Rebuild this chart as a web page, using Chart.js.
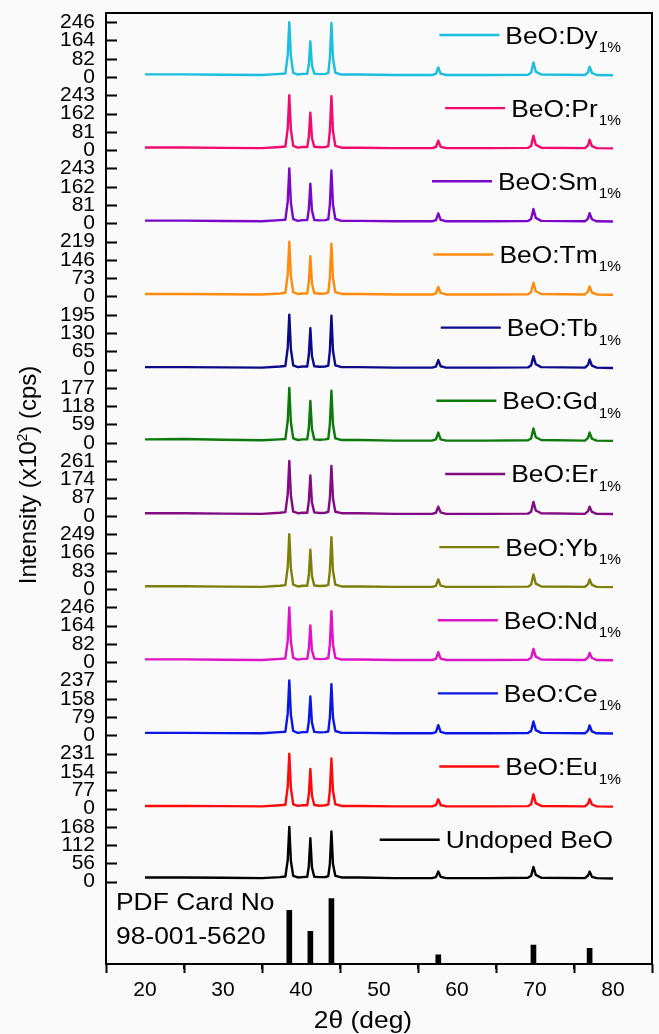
<!DOCTYPE html>
<html>
<head>
<meta charset="utf-8">
<script src="https://cdn.jsdelivr.net/npm/chart.js@4.4.1/dist/chart.umd.min.js"></script>
<style>
  html, body { margin: 0; padding: 0; background: #fafafa; }
  canvas { display: block; }
</style>
</head>
<body>
<canvas id="xrdChart" width="659" height="1034"></canvas>
<script>
// 2θ (deg) sampled for every trace
const twoTheta = [20, 25, 30, 35, 37.3, 38.0, 38.3, 38.5, 38.7, 39.0, 39.6, 40.2, 40.8, 41.0, 41.2, 41.4, 41.7, 42.4, 43.1, 43.5,
  43.7, 43.9, 44.1, 44.4, 45.2, 47.5, 52, 56.8, 57.3, 57.6, 57.9, 58.6, 64, 69.1, 69.5, 69.8, 70.1, 70.8, 76.4, 76.8,
  77.0, 77.3, 77.9, 80];

// 凡例ラベル (上から順)
const seriesLabels = ['BeO:Dy', 'BeO:Pr', 'BeO:Sm', 'BeO:Tm', 'BeO:Tb', 'BeO:Gd', 'BeO:Er', 'BeO:Yb', 'BeO:Nd', 'BeO:Ce', 'BeO:Eu', 'Undoped BeO'];
const labelSubs = ['1%', '1%', '1%', '1%', '1%', '1%', '1%', '1%', '1%', '1%', '1%', ''];
const seriesColors = ['#1abee0', '#f20a6e', '#7b06c9', '#ff8a0c', '#0b0b8a', '#0b7a0b', '#820a82', '#7e7e0a', '#e012c8', '#0a16e4', '#ff0a0a', '#000000'];

// top tick label of each panel (x10^2 cps)
const panelMax = [246, 243, 243, 219, 195, 177, 261, 249, 246, 237, 231, 168];

// intensities (x10^2 cps)
const intDy = [12, 12, 10, 9, 14, 16, 98, 246, 93, 19, 11, 14, 14, 56, 160, 53, 15, 13, 14, 18, 85, 242, 85, 19, 11, 11, 9, 9, 14, 43, 15, 9, 9, 10, 19, 65, 24, 11, 9, 21, 46, 18, 9, 8];
const intPr = [12, 12, 10, 9, 14, 16, 97, 243, 92, 19, 11, 14, 14, 58, 166, 55, 15, 13, 14, 18, 84, 239, 84, 19, 11, 11, 9, 9, 14, 42, 15, 9, 9, 10, 19, 64, 24, 11, 9, 21, 46, 18, 9, 8];
const intSm = [12, 12, 10, 9, 14, 16, 97, 243, 92, 19, 11, 14, 14, 61, 175, 58, 15, 13, 14, 18, 82, 234, 82, 19, 11, 11, 9, 9, 14, 44, 15, 9, 9, 10, 19, 63, 24, 11, 9, 21, 45, 18, 9, 8];
const intTm = [10, 10, 9, 8, 12, 15, 88, 219, 83, 17, 10, 12, 12, 56, 161, 53, 14, 11, 12, 16, 74, 211, 74, 17, 10, 10, 8, 8, 12, 38, 14, 8, 8, 9, 17, 55, 21, 10, 8, 19, 40, 16, 8, 7];
const intTb = [9, 9, 8, 7, 11, 13, 78, 195, 74, 15, 9, 11, 11, 51, 147, 49, 12, 10, 11, 14, 67, 192, 67, 15, 9, 9, 7, 7, 11, 34, 12, 7, 7, 8, 15, 48, 19, 9, 7, 17, 36, 14, 7, 6];
const intGd = [11, 12, 10, 8, 11, 12, 71, 177, 67, 14, 9, 11, 11, 47, 135, 45, 11, 10, 11, 13, 59, 168, 59, 14, 9, 9, 7, 7, 11, 33, 11, 7, 7, 8, 14, 46, 18, 9, 7, 16, 33, 13, 7, 6];
const intEr = [13, 13, 11, 10, 15, 18, 104, 261, 99, 20, 13, 15, 15, 68, 193, 64, 17, 14, 15, 19, 83, 238, 83, 20, 13, 13, 10, 10, 15, 44, 17, 10, 10, 11, 20, 67, 26, 13, 10, 23, 44, 19, 10, 9];
const intYb = [13, 13, 11, 10, 15, 18, 100, 249, 95, 20, 12, 15, 15, 63, 179, 59, 16, 14, 15, 19, 83, 236, 83, 20, 12, 12, 10, 10, 15, 44, 16, 10, 10, 11, 20, 66, 25, 12, 10, 22, 44, 19, 10, 9];
const intNd = [13, 13, 11, 10, 15, 17, 98, 246, 93, 20, 12, 15, 15, 58, 165, 54, 16, 14, 15, 19, 80, 229, 80, 20, 12, 12, 10, 10, 15, 45, 16, 10, 10, 11, 20, 60, 25, 12, 10, 22, 42, 19, 10, 9];
const intCe = [11, 11, 10, 9, 14, 16, 95, 237, 90, 19, 11, 14, 14, 59, 168, 55, 15, 13, 14, 17, 77, 221, 77, 19, 11, 11, 9, 9, 14, 44, 15, 9, 9, 10, 19, 60, 23, 11, 9, 21, 43, 17, 9, 8];
const intEu = [11, 11, 10, 9, 14, 16, 92, 231, 88, 18, 11, 14, 14, 58, 167, 55, 15, 12, 14, 17, 74, 211, 74, 18, 11, 11, 9, 9, 14, 39, 15, 9, 9, 10, 18, 60, 23, 11, 9, 21, 40, 17, 9, 8];
const intUndoped = [13, 13, 12, 11, 14, 16, 67, 168, 64, 18, 13, 14, 15, 47, 133, 44, 15, 14, 14, 17, 54, 154, 54, 18, 13, 13, 11, 11, 14, 31, 15, 11, 11, 12, 18, 45, 21, 12, 11, 19, 31, 15, 11, 10];
const seriesValues = [intDy, intPr, intSm, intTm, intTb, intGd, intEr, intYb, intNd, intCe, intEu, intUndoped];

// PDF Card 98-001-5620 reference lines (relative intensity)
const pdfPositions = [38.5, 41.2, 43.9, 57.6, 69.8, 77.0];
const pdfIntensity = [82, 50, 100, 14, 29, 24];

const xTicks = [20, 30, 40, 50, 60, 70, 80];
const xMinorTicks = [25, 35, 45, 55, 65, 75];

const FONT = '"Liberation Sans", Arial, sans-serif';

function textWidth(ctx, text, size, sx) {
  ctx.font = size + 'px ' + FONT;
  return ctx.measureText(text).width * sx;
}

// 横に少し伸ばした文字を描く
function drawText(ctx, text, x, y, size, sx) {
  ctx.save();
  ctx.font = size + 'px ' + FONT;
  ctx.translate(x, y);
  ctx.scale(sx, 1);
  ctx.textAlign = 'left';
  ctx.textBaseline = 'alphabetic';
  ctx.fillStyle = '#000';
  ctx.fillText(text, 0, 0);
  ctx.restore();
}

// 軸端ラベル用の余白を消す (パネルは積み重ねなので不要)
function noEdgePadding(s) {
  s.paddingTop = 0;
  s.paddingBottom = 0;
  s.paddingLeft = 0;
  s.paddingRight = 0;
}

const decorPlugin = {
  id: 'decor',
  afterDraw(chart) {
    const ctx = chart.ctx;
    const area = chart.chartArea;
    ctx.save();
    ctx.strokeStyle = '#000';
    ctx.lineWidth = 2;
    ctx.strokeRect(area.left, area.top, area.right - area.left, area.bottom - area.top);

    // y軸の内向き目盛り
    panelMax.forEach((m, i) => {
      const s = chart.scales['y' + i];
      s.ticks.forEach((t) => {
        const py = Math.round(s.getPixelForValue(t.value)) + 0.5;
        ctx.beginPath();
        ctx.moveTo(area.left, py);
        ctx.lineTo(area.left + 11, py);
        ctx.stroke();
      });
    });

    // x軸の補助目盛り
    const xs = chart.scales.x;
    xMinorTicks.forEach((v) => {
      const px = Math.round(xs.getPixelForValue(v));
      ctx.beginPath();
      ctx.moveTo(px, area.bottom);
      ctx.lineTo(px, area.bottom + 5);
      ctx.stroke();
    });

    // 凡例
    seriesLabels.forEach((label, i) => {
      const s = chart.scales['y' + i];
      const ly = s.getPixelForValue(0) - 42;
      const sub = labelSubs[i];
      const right = area.right - (sub ? 31 : 39);
      const mw = textWidth(ctx, label, 24, 1.1);
      const sw = sub ? textWidth(ctx, sub, 14, 1.1) + 1 : 0;
      const tx = right - mw - sw;
      drawText(ctx, label, tx, ly + 8.5, 24, 1.1);
      if (sub) drawText(ctx, sub, tx + mw + 1, ly + 17, 14, 1.1);
      ctx.strokeStyle = seriesColors[i];
      ctx.lineWidth = 2.4;
      ctx.beginPath();
      ctx.moveTo(tx - 66, ly);
      ctx.lineTo(tx - 6, ly);
      ctx.stroke();
    });

    // PDFカード表記
    drawText(ctx, 'PDF Card No', area.left + 10, area.bottom - 54, 24, 1.1);
    drawText(ctx, '98-001-5620', area.left + 10, area.bottom - 20, 24, 1.1);

    // x軸タイトル
    const xt = '2θ (deg)';
    const xw = textWidth(ctx, xt, 24, 1.1);
    drawText(ctx, xt, 363 - xw / 2, 1028, 24, 1.1);

    // y軸タイトル (上付き2)
    ctx.translate(36, 475);
    ctx.rotate(-Math.PI / 2);
    ctx.fillStyle = '#000';
    ctx.textBaseline = 'alphabetic';
    ctx.textAlign = 'left';
    const p1 = 'Intensity (x10';
    const p2 = '2';
    const p3 = ') (cps)';
    ctx.font = '24px ' + FONT;
    const w1 = ctx.measureText(p1).width;
    const w3 = ctx.measureText(p3).width;
    ctx.font = '14px ' + FONT;
    const w2 = ctx.measureText(p2).width;
    const x0 = -(w1 + w2 + w3) / 2;
    ctx.font = '24px ' + FONT;
    ctx.fillText(p1, x0, 0);
    ctx.font = '14px ' + FONT;
    ctx.fillText(p2, x0 + w1, -9);
    ctx.font = '24px ' + FONT;
    ctx.fillText(p3, x0 + w1 + w2, 0);
    ctx.restore();
  },
};

const datasets = seriesValues.map((vals, i) => ({
  type: 'line',
  label: seriesLabels[i],
  data: twoTheta.map((x, k) => ({ x, y: vals[k] })),
  yAxisID: 'y' + i,
  borderColor: seriesColors[i],
  borderWidth: 2.4,
  borderJoinStyle: 'round',
  pointRadius: 0,
  tension: 0,
  fill: false,
}));
datasets.push({
  type: 'bar',
  label: 'PDF Card No 98-001-5620',
  data: pdfPositions.map((x, k) => ({ x, y: pdfIntensity[k] })),
  yAxisID: 'yP',
  backgroundColor: '#000',
  borderWidth: 0,
  barThickness: 5,
});

const scales = {
  x: {
    type: 'linear',
    min: 15,
    max: 85,
    offset: false,
    afterBuildTicks: (s) => { s.ticks = xTicks.map((v) => ({ value: v })); },
    afterFit: (s) => { s.height = 70; noEdgePadding(s); },
    grid: { display: true, drawOnChartArea: false, drawTicks: true, tickLength: 9, tickWidth: 2, color: '#000' },
    border: { display: false },
    ticks: { padding: 5, color: '#000', font: { family: FONT, size: 21 }, maxRotation: 0, autoSkip: false },
  },
};
panelMax.forEach((m, i) => {
  const step = m / 3;
  scales['y' + i] = {
    type: 'linear',
    position: 'left',
    stack: 'xrd',
    stackWeight: 1,
    weight: 13 - i,
    min: -step / 2,
    max: m + step / 2,
    afterBuildTicks: (s) => { s.ticks = [0, step, 2 * step, m].map((v) => ({ value: v })); },
    afterFit: (s) => { s.width = 48; noEdgePadding(s); },
    grid: { display: false, drawTicks: false },
    border: { display: false },
    ticks: { autoSkip: false, padding: 11, color: '#000', font: { family: FONT, size: 21 }, callback: (v) => Math.round(v) },
  };
});
scales.yP = {
  type: 'linear',
  position: 'left',
  stack: 'xrd',
  stackWeight: 1,
  weight: 0,
  min: 0,
  max: 112,
  afterFit: (s) => { s.width = 48; noEdgePadding(s); },
  grid: { display: false, drawTicks: false },
  border: { display: false },
  ticks: { display: false },
};

new Chart(document.getElementById('xrdChart').getContext('2d'), {
  type: 'line',
  data: { datasets },
  options: {
    responsive: false,
    animation: false,
    layout: { padding: { left: 58, top: 13, right: 7, bottom: 0 } },
    plugins: { legend: { display: false }, tooltip: { enabled: false } },
    scales,
  },
  plugins: [decorPlugin],
});
</script>
</body>
</html>
